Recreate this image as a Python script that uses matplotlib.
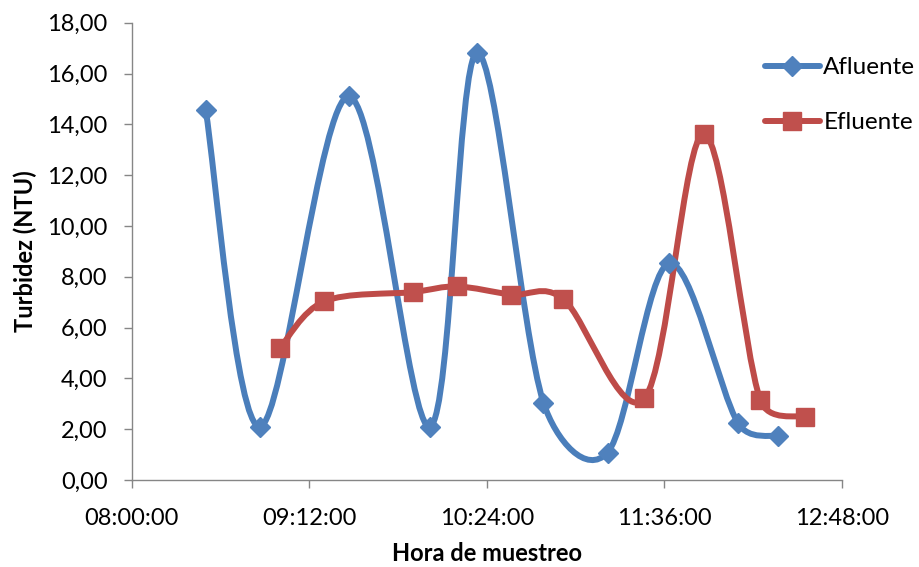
import matplotlib
matplotlib.use("Agg")
import matplotlib.pyplot as plt
from matplotlib.path import Path
from matplotlib.patches import PathPatch
from matplotlib.ticker import FuncFormatter, FixedLocator
import numpy as np

plt.rcParams['font.family'] = ['Lato', 'DejaVu Sans']

# ---- data ----
times_afluente = ["08:30", "08:52", "09:28", "10:01", "10:20", "10:47", "11:13", "11:38", "12:06", "12:22"]
afluente = [14.55, 2.10, 15.10, 2.10, 16.82, 3.05, 1.08, 8.53, 2.23, 1.72]
times_efluente = ["09:00", "09:18", "09:54", "10:12", "10:34", "10:55", "11:28", "11:52", "12:15", "12:33"]
efluente = [5.18, 7.03, 7.40, 7.62, 7.30, 7.13, 3.22, 13.62, 3.14, 2.48]
x_ticks = ["08:00", "09:12", "10:24", "11:36", "12:48"]
y_ticks = [0, 2, 4, 6, 8, 10, 12, 14, 16, 18]
series_names = ["Afluente", "Efluente"]
x_label = "Hora de muestreo"
y_label = "Turbidez (NTU)"


def to_min(t):
    h, m = t.split(":")
    return int(h) * 60 + int(m)


def smooth_path(ax, xs, ys):
    """Excel-style smoothed line: cubic Bezier, Catmull-Rom tangents (1/6)
    capped at half the segment length, computed in display space."""
    pts = ax.transData.transform(np.column_stack([xs, ys]).astype(float))
    n = len(pts)
    verts = [pts[0]]
    codes = [Path.MOVETO]
    for i in range(n - 1):
        p0 = pts[i - 1] if i > 0 else pts[i]
        p1 = pts[i]
        p2 = pts[i + 1]
        p3 = pts[i + 2] if i + 2 < n else pts[i + 1]
        d12 = np.hypot(*(p2 - p1))
        d02 = np.hypot(*(p2 - p0))
        d13 = np.hypot(*(p3 - p1))
        f0 = 1 / 6 if d02 == 0 else min(1 / 6, 0.5 * d12 / d02)
        f3 = 1 / 6 if d13 == 0 else min(1 / 6, 0.5 * d12 / d13)
        c1 = p1 + (p2 - p0) * f0
        c2 = p2 - (p3 - p1) * f3
        verts += [c1, c2, p2]
        codes += [Path.CURVE4] * 3
    verts = ax.transData.inverted().transform(np.array(verts))
    return Path(verts, codes)


fig = plt.figure(figsize=(9.2, 5.67), dpi=100)
ax = fig.add_axes([0.1432, 0.1534, 0.7717, 0.8064])

xt = [to_min(t) for t in x_ticks]
ax.set_xlim(xt[0], xt[-1])
ax.set_ylim(y_ticks[0], y_ticks[-1])

blue_line, blue_fill = "#4A7EBB", "#4F81BD"
red_line, red_fill = "#BE4B48", "#C0504D"
lw = 4.3

xa = [to_min(t) for t in times_afluente]
xe = [to_min(t) for t in times_efluente]

for xs, ys, col in [(xa, afluente, blue_line), (xe, efluente, red_line)]:
    patch = PathPatch(smooth_path(ax, xs, ys), facecolor="none", edgecolor=col,
                      lw=lw, capstyle="round", joinstyle="round", zorder=2)
    ax.add_patch(patch)

ax.plot(xa, afluente, linestyle="none", marker="D", ms=9.8, mfc=blue_fill,
        mec=blue_fill, mew=1, zorder=3)
ax.plot(xe, efluente, linestyle="none", marker="s", ms=13.5, mfc=red_fill,
        mec=red_fill, mew=1, zorder=3)

# legend proxies
h1, = ax.plot([], [], color=blue_line, lw=lw, marker="D", ms=9.8, mfc=blue_fill,
              mec=blue_fill, solid_capstyle="round")
h2, = ax.plot([], [], color=red_line, lw=lw, marker="s", ms=13.5, mfc=red_fill,
              mec=red_fill, solid_capstyle="round")
leg = ax.legend([h1, h2], series_names, loc="upper left",
                bbox_to_anchor=(765 / 920, 1 - 57 / 567), bbox_transform=fig.transFigure,
                frameon=False, fontsize=17.5, handlelength=2.25, handletextpad=0.15,
                labelspacing=1.4, borderpad=0, borderaxespad=0, numpoints=1)

ax.set_xlim(xt[0], xt[-1])
ax.set_ylim(y_ticks[0], y_ticks[-1])
ax.xaxis.set_major_locator(FixedLocator(xt))
ax.xaxis.set_major_formatter(FuncFormatter(lambda v, p: "%02d:%02d:00" % (int(v) // 60, int(v) % 60)))
ax.yaxis.set_major_locator(FixedLocator(y_ticks))
ax.yaxis.set_major_formatter(FuncFormatter(lambda v, p: ("%.2f" % v).replace(".", ",")))

for s in ["top", "right"]:
    ax.spines[s].set_visible(False)
for s in ["left", "bottom"]:
    ax.spines[s].set_color("#868686")
    ax.spines[s].set_linewidth(1.0)
ax.tick_params(axis="both", direction="out", length=5.5, width=1.0, color="#868686",
               labelsize=17, labelcolor="black")
ax.tick_params(axis="x", pad=14.5)
ax.tick_params(axis="y", pad=12)

ax.set_xlabel(x_label, fontsize=17, fontweight="bold")
ax.set_ylabel(y_label, fontsize=17, fontweight="bold")
ax.xaxis.set_label_coords(0.5, -(553 - 480) / (0.8064 * 567), transform=ax.transAxes)
ax.yaxis.set_label_coords(-(131.7 - 25) / (0.7717 * 920), 0.5 + (480 - 251 - 0.5 * 457.2) / 457.2, transform=ax.transAxes)
ax.xaxis.label.set_va("center")
ax.yaxis.label.set_va("center")

fig.savefig("out.png", dpi=100)
